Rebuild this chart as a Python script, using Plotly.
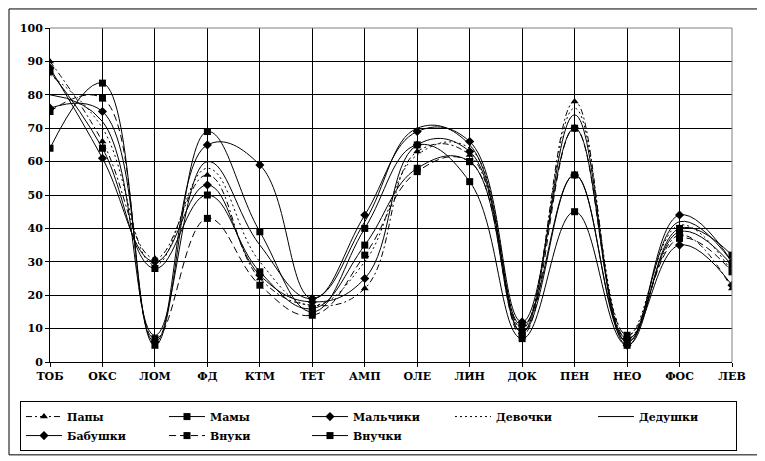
import plotly.graph_objects as go

categories = ["ТОБ", "ОКС", "ЛОМ", "ФД", "КТМ", "ТЕТ", "АМП",
              "ОЛЕ", "ЛИН", "ДОК", "ПЕН", "НЕО", "ФОС", "ЛЕВ"]

papy = [90, 66, 31, 56, 25, 17, 22, 63, 62, 10, 78, 7, 38, 22]
mamy = [87, 64, 28, 50, 27, 16, 35, 58, 60, 9, 56, 6, 39, 29]
malchiki = [88, 61, 30, 53, 26, 18, 25, 65, 63, 11, 56, 7, 35, 23]
devochki = [86, 70, 29, 58, 30, 17, 30, 62, 64, 10, 76, 8, 41, 27]
dedushki = [80, 72, 8, 60, 35, 19, 42, 70, 65, 9, 74, 6, 42, 30]
babushki = [76, 75, 6, 65, 59, 19, 44, 69, 66, 12, 70, 5, 44, 30]
vnuki = [75, 79, 7, 43, 23, 14, 32, 57, 60, 8, 70, 8, 37, 27]
vnuchki = [64, 83.5, 5, 69, 39, 15, 40, 65, 54, 7, 45, 5, 40, 32]

series = [
    ("Папы", papy, "6px,3px,2px,3px", "triangle-up"),
    ("Мамы", mamy, "solid", "square"),
    ("Мальчики", malchiki, "solid", "diamond"),
    ("Девочки", devochki, "2px,3px", None),
    ("Дедушки", dedushki, "solid", None),
    ("Бабушки", babushki, "solid", "diamond"),
    ("Внуки", vnuki, "7px,4px", "square"),
    ("Внучки", vnuchki, "solid", "square"),
]

xs = list(range(len(categories)))
serif_bold = dict(family="DejaVu Serif", size=11, color="black", weight="bold")

fig = go.Figure()

for name, vals, dash, sym in series:
    fig.add_trace(go.Scatter(
        x=xs, y=vals, name=name,
        mode="lines+markers" if sym else "lines",
        line=dict(color="black", width=1, dash=dash, shape="spline", smoothing=1.2),
        marker=dict(symbol=sym or "circle", size=7, color="black"),
    ))

# page body has an 8px margin, so the figure is shrunk and shifted by that
fig.update_layout(
    width=757, height=453,
    margin=dict(l=42, r=33, t=20, b=99, autoexpand=False),
    paper_bgcolor="white",
    plot_bgcolor="white",
    font=serif_bold,
    showlegend=True,
    legend=dict(
        orientation="h",
        x=-0.044, y=-0.117, xanchor="left", yanchor="top",
        entrywidth=92, entrywidthmode="pixels",
        itemwidth=36,
        bordercolor="black", borderwidth=1,
        font=serif_bold,
        tracegroupgap=0,
    ),
    shapes=[
        # outer chart frame
        dict(type="rect", xref="paper", yref="paper",
             x0=-0.0601, x1=1.041, y0=-0.278, y1=1.057,
             line=dict(color="black", width=1)),
        # grey plot-area border on top and right
        dict(type="path", xref="paper", yref="paper",
             path="M 0,1 L 1,1 L 1,0",
             line=dict(color="#808080", width=1)),
    ],
)

fig.update_xaxes(
    range=[0, 13],
    tickvals=xs, ticktext=categories,
    showgrid=True, gridcolor="black", gridwidth=1,
    showline=True, linecolor="black", linewidth=1,
    ticks="outside", ticklen=4, tickcolor="black",
    tickfont=serif_bold,
    zeroline=False,
)
fig.update_yaxes(
    range=[0, 100], dtick=10,
    showgrid=True, gridcolor="black", gridwidth=1,
    showline=True, linecolor="black", linewidth=1,
    ticks="outside", ticklen=4, tickcolor="black",
    tickfont=serif_bold,
    zeroline=False,
)

fig.write_html("out.html")
